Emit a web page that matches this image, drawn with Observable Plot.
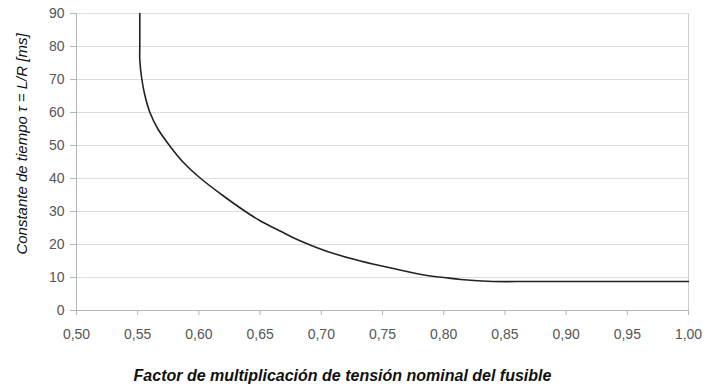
<!DOCTYPE html>
<html>
<head>
<meta charset="utf-8">
<script src="https://cdn.jsdelivr.net/npm/d3@7"></script>
<script src="https://cdn.jsdelivr.net/npm/@observablehq/plot@0.6"></script>
<style>
  html, body { margin: 0; padding: 0; background: #fff; }
  #chart svg { display: block; }
</style>
</head>
<body>
<div id="chart"></div>
<script>
const factor = [0.5517, 0.5517, 0.5517, 0.5517, 0.5534, 0.556, 0.560, 0.5665, 0.576, 0.587, 0.6015, 0.619, 0.638, 0.650, 0.6667, 0.6775, 0.705, 0.732, 0.759, 0.7865, 0.800, 0.814, 0.840, 0.870, 0.920, 0.960, 1.000];
const tau    = [90, 85, 80, 76, 70, 65, 60, 55, 50, 45, 40, 35, 30, 27.2, 24.0, 22.0, 17.9, 15.0, 12.7, 10.6, 10.0, 9.4, 8.8, 8.8, 8.8, 8.8, 8.8];
const xTicks = [0.50, 0.55, 0.60, 0.65, 0.70, 0.75, 0.80, 0.85, 0.90, 0.95, 1.00];
const yTicks = [0, 10, 20, 30, 40, 50, 60, 70, 80, 90];
const xTitle = "Factor de multiplicación de tensión nominal del fusible";
const yTitle = "Constante de tiempo τ = L/R [ms]";

const data = factor.map((f, i) => ({f, t: tau[i]}));
const fmtX = d => d3.format(".2f")(d).replace(".", ",");

const chart = Plot.plot({
  width: 721,
  height: 387,
  marginLeft: 76,
  marginRight: 33,
  marginTop: 13,
  marginBottom: 77,
  style: {fontFamily: "'Liberation Sans', Arial, sans-serif", fontSize: "14px", color: "#555", background: "#fff"},
  x: {domain: [0.5, 1.0]},
  y: {domain: [0, 90]},
  marks: [
    Plot.ruleY(yTicks.filter(d => d > 0), {stroke: "#dcdcdc", strokeWidth: 1}),
    Plot.ruleX([1.0], {stroke: "#cfcfcf"}),
    Plot.ruleX([0.5], {stroke: "#b5b5b5"}),
    Plot.ruleY([0], {stroke: "#b5b5b5"}),
    Plot.axisX({ticks: xTicks, tickFormat: fmtX, tickSize: 5, tickPadding: 14, stroke: "#b5b5b5", label: null, fill: "#555", fontSize: 14}),
    Plot.axisY({ticks: yTicks, tickSize: 6, tickPadding: 6, stroke: "#b5b5b5", label: null, fill: "#555", fontSize: 14}),
    Plot.line(data, {x: "f", y: "t", stroke: "#222", strokeWidth: 1.6, curve: "catmull-rom"}),
    Plot.text([xTitle], {frameAnchor: "bottom", dx: -40, dy: 65, lineAnchor: "middle", textAnchor: "middle", fontStyle: "italic", fontSize: 16, fill: "#111", fontWeight: "bold"}),
    Plot.text([yTitle], {frameAnchor: "left", dx: -54, dy: -18, rotate: -90, textAnchor: "middle", lineAnchor: "middle", fontStyle: "italic", fontSize: 15, fill: "#111"})
  ]
});
document.getElementById("chart").appendChild(chart);
</script>
</body>
</html>
